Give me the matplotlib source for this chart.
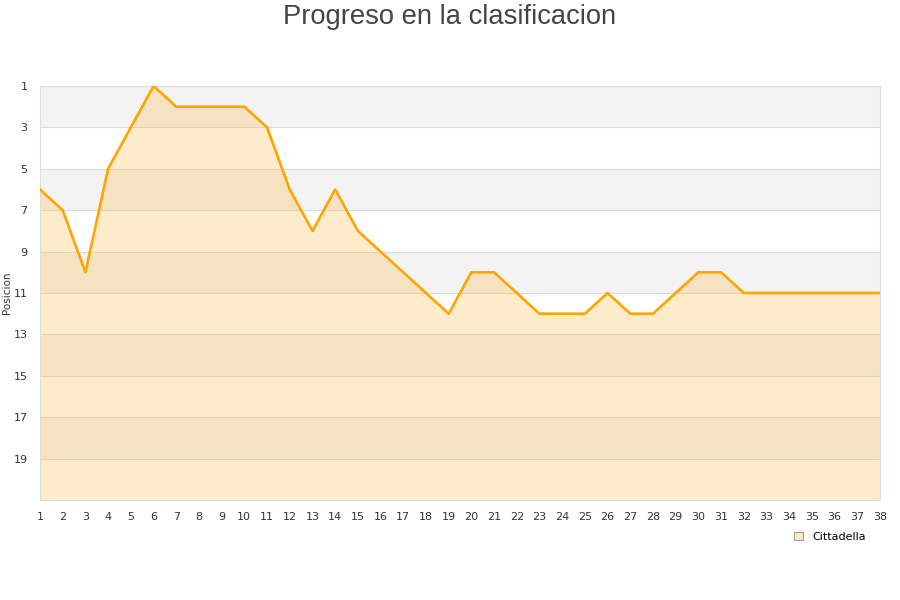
import matplotlib
matplotlib.use("Agg")
import matplotlib.pyplot as plt
from matplotlib.patches import Patch

rounds = list(range(1, 39))
positions = [6, 7, 10, 5, 3, 1, 2, 2, 2, 2, 3, 6, 8, 6, 8, 9, 10, 11, 12, 10,
             10, 11, 12, 12, 12, 11, 12, 12, 11, 10, 10, 11, 11, 11, 11, 11, 11, 11]
team = "Cittadella"
yticks = list(range(1, 21, 2))

fig = plt.figure(figsize=(9, 6), dpi=100)
ax = fig.add_axes([40/900, 100/600, 840/900, 414/600])

ymin, ymax = 1, 21
for start in range(1, 21, 4):
    ax.axhspan(start, start + 2, color="#f3f3f3", lw=0, zorder=0)
for y in yticks:
    ax.axhline(y, color="#dddddd", lw=0.8, zorder=1)

ax.fill_between(rounds, positions, ymax, color=(251/255, 179/255, 47/255), alpha=0.25, lw=0, zorder=2)
ax.plot(rounds, positions, color="#FFA500", lw=1.9, zorder=3)

ax.set_xlim(1, 38)
ax.set_ylim(ymax, ymin)
ax.set_yticks(yticks)
ax.set_xticks(rounds)
ax.tick_params(axis="both", length=0, labelsize=8, colors="#333333")
ax.tick_params(axis="y", pad=9)
ax.tick_params(axis="x", pad=9)
for s in ax.spines.values():
    s.set_color("#dddddd")
    s.set_linewidth(0.8)
ax.set_ylabel("Posicion", fontsize=7.5, color="#333333")
ax.yaxis.set_label_coords(-28/840, 0.5)

fig.text(0.5, 0.971, "Progreso en la clasificacion", ha="center", va="center", fontsize=19.7,
         color="#444444", family=["Liberation Sans", "DejaVu Sans"])

leg = fig.legend(handles=[Patch(facecolor="#fde9c6", edgecolor="#888888", lw=0.6)],
                 labels=[team], loc="center", bbox_to_anchor=(0.922, 0.105),
                 frameon=False, fontsize=8, handlelength=0.8, handleheight=0.8)

fig.savefig("out.png", dpi=100)
